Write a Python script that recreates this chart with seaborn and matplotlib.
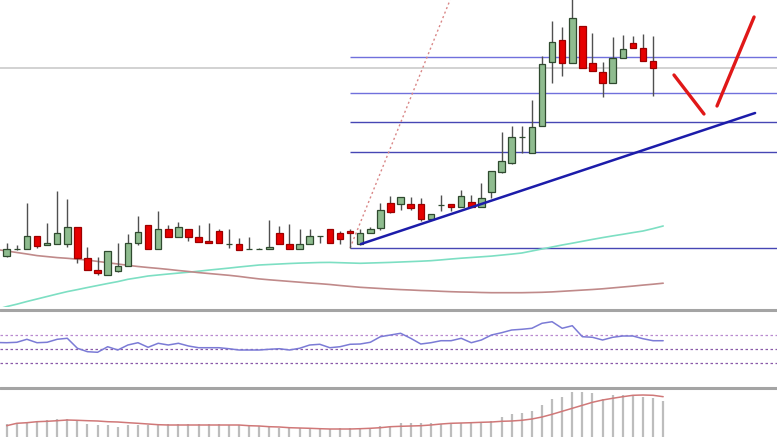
import numpy as np
import pandas as pd
import seaborn as sns
import matplotlib.pyplot as plt
from matplotlib.lines import Line2D

sns.set_style("white")

# candles (price units), one per bar
opens = [54, 61, 61, 74, 65, 66, 66, 83, 52, 40,
         35, 39, 44, 67, 85, 61, 81, 73, 81, 73,
         69, 79, 66, 66, 61, 61, 61, 77, 66, 61,
         66, 74, 81, 77, 79, 66, 77, 82, 107, 106,
         106, 106, 91, 105, 106, 103, 108, 103, 118, 138,
         147, 173, 157, 184, 248, 270, 247, 284, 247, 238,
         227, 252, 267, 262, 249]
highs = [67, 65, 107, 74, 87, 119, 111, 83, 63, 53,
         59, 67, 76, 94, 85, 99, 85, 88, 81, 85,
         87, 81, 81, 72, 73, 62, 90, 84, 86, 81,
         81, 74, 81, 79, 81, 81, 83, 107, 114, 113,
         113, 112, 96, 115, 106, 120, 115, 127, 139, 178,
         184, 184, 210, 254, 289, 283, 315, 284, 277, 248,
         273, 275, 274, 276, 274]
lows = [53, 60, 61, 62, 65, 66, 63, 47, 40, 35,
        35, 38, 44, 65, 61, 61, 73, 73, 69, 68,
        67, 67, 62, 60, 61, 61, 61, 66, 61, 61,
        66, 67, 67, 66, 62, 65, 77, 80, 97, 100,
        100, 89, 91, 99, 99, 103, 103, 103, 112, 137,
        146, 157, 157, 184, 227, 234, 247, 242, 239, 213,
        227, 252, 262, 249, 214]
closes = [61, 61, 74, 64, 67, 77, 83, 52, 40, 37,
          59, 44, 67, 78, 61, 81, 73, 83, 73, 68,
          67, 67, 66, 60, 61, 61, 63, 66, 61, 66,
          74, 74, 67, 71, 77, 77, 81, 100, 98, 113,
          102, 91, 96, 105, 103, 114, 103, 112, 139, 149,
          173, 173, 183, 246, 268, 247, 292, 242, 239, 227,
          252, 261, 262, 249, 242]

# moving averages, starting one bar before the first candle
ma_fast = [0.5, 3.4, 5.8, 8.5, 11, 13.5, 16, 18.4, 20.4, 22.5, 24.5, 26.5, 28.4,
           30.7, 32.3, 34, 35, 36, 36.9, 37.8, 38.8, 39.9, 40.9, 41.9, 43, 44, 45,
           45.5, 46, 46.5, 46.9, 47.2, 47.5, 47.6, 47.3, 47, 46.7, 47, 47.3, 47.6,
           48, 48.4, 48.8, 49.3, 50.1, 51, 51.8, 52.5, 53.2, 53.9, 54.9, 55.9, 57,
           59, 61, 63, 65, 66.8, 68.7, 70.6, 72.4, 74.1, 75.7, 77.4, 79, 81.4, 84]
ma_slow = [60.5, 59, 57.5, 56, 54.4, 53.4, 52.4, 51.7, 50.8, 49.9, 48.6, 47.3, 46,
           44.7, 43.5, 42.5, 41.6, 40.6, 39.5, 38.5, 37.4, 36.5, 35.6, 34.7, 33.6,
           32.3, 31.1, 30.2, 29.4, 28.6, 27.8, 27, 26.3, 25.5, 24.5, 23.6, 22.7,
           22.1, 21.5, 20.9, 20.4, 20, 19.5, 19.2, 18.7, 18.3, 18, 17.8, 17.5, 17.3,
           17.3, 17.3, 17.3, 17.5, 17.7, 18.1, 18.7, 19.3, 19.9, 20.5, 21.2, 22.1,
           23, 23.9, 24.9, 25.8, 26.8]

rsi = [59.1, 58.8, 59.4, 63.6, 58.8, 59.4, 63.6, 65.0, 51.0, 46.2, 45.4, 53.2, 48.6,
       55.6, 58.8, 52.4, 58.0, 55.6, 58.0, 54.2, 51.8, 51.8, 51.8, 50.4, 48.6, 48.6,
       48.6, 49.6, 50.4, 48.6, 51.0, 55.6, 56.6, 51.8, 53.2, 56.6, 57.0, 59.4, 67.2,
       69.6, 72.0, 65.0, 57.0, 58.8, 61.6, 61.6, 65.0, 58.8, 62.6, 69.6, 72.8, 76.6,
       77.6, 79.0, 86.0, 88.2, 79.0, 82.6, 67.2, 66.4, 62.6, 66.4, 68.2, 68.2, 64.4,
       61.6, 61.6]
rsi_levels = [70, 50, 30]

macd_hist = [21, 21.7, 23.3, 24.3, 25, 25.7, 25.7, 24.3, 21, 20,
             20, 18.3, 20, 20, 20, 21, 21, 21, 21, 21,
             21, 21, 20, 20, 20, 19, 18.3, 17.3, 16.7, 16.7,
             16, 16, 16, 16.7, 16.7, 17.3, 17.3, 19, 19, 21.7,
             22.3, 21.7, 21.7, 20.7, 22.3, 22.3, 22.3, 22.3, 24.3, 27.7,
             30.7, 31.7, 34.3, 40, 46, 48.3, 52.7, 52.7, 52.3, 45.7,
             50, 50, 49.3, 48.3, 46.7, 44.3]
macd_signal = [19.3, 21.7, 22.3, 23.3, 23.7, 24.3, 25, 24.7, 24.3, 24,
               23.3, 23, 22.3, 21.7, 21, 20.3, 20, 20, 20, 20,
               20, 20, 20, 20, 19.3, 19, 18.3, 18, 17.3, 17,
               16.7, 16.3, 16, 16, 16, 16.3, 16.7, 17.3, 18.3, 18.7,
               19, 19.3, 20, 21, 21.7, 22, 22.3, 22.7, 23, 23.7,
               24, 24.7, 26, 28, 30.7, 33.7, 36.7, 39.7, 42.7, 45,
               46.7, 48.3, 49.7, 50, 49.7, 48.3]

# drawn objects
fib_levels = [253, 217, 188, 158, 62]
fib_start = 34
last_price = 242
trend_x, trend_y = [35.08, 74.1], [66, 197]
fan_x, fan_y = [34.0, 43.9], [62, 310]
path1_x, path1_y = [66.07, 69.04], [235, 196]
path2_x, path2_y = [70.33, 74.0], [204, 293]

W, H = 777, 437
fig = plt.figure(figsize=(W / 100, H / 100), dpi=100)
fig.patch.set_facecolor("white")

def frac(top, bottom):
    return [0, (H - bottom) / H, 1, (bottom - top) / H]

ax = fig.add_axes(frac(0, 307))
ax_rsi = fig.add_axes(frac(311, 387), sharex=ax)
ax_macd = fig.add_axes(frac(389, 437), sharex=ax)
xlim = (-0.663, 76.27)

# main panel
x = np.arange(len(opens))
o, h, l, c = (np.array(v, dtype=float) for v in (opens, highs, lows, closes))
up = c >= o
ax.axhline(last_price, color="#cfcfcf", lw=1.3, zorder=0)
ax.hlines(fib_levels[:2], fib_start, xlim[1], color="#7070dc", lw=1, zorder=1)
ax.hlines(fib_levels[2:], fib_start, xlim[1], color="#4646b4", lw=1, zorder=1)
ma_x = np.arange(-1, len(ma_fast) - 1)
sns.lineplot(x=ma_x, y=ma_fast, ax=ax, color="#7ddfc3", lw=1.2, zorder=1)
sns.lineplot(x=ma_x, y=ma_slow, ax=ax, color="#c08a8a", lw=1.2, zorder=1)
ax.plot(fan_x, fan_y, color="#d98686", lw=1, ls=(0, (1.5, 2)), zorder=1)
ax.vlines(x, l, h, color="#505050", lw=1, zorder=2)
ax.bar(x[up], (c - o)[up], bottom=o[up], width=0.64, color="#8fbc8f",
       edgecolor="#2f4a2f", lw=0.9, zorder=3)
ax.bar(x[~up], (o - c)[~up], bottom=c[~up], width=0.64, color="#e60000",
       edgecolor="#9c0000", lw=0.9, zorder=3)
ax.plot(trend_x, trend_y, color="#1c1caa", lw=1.8, zorder=4)
ax.plot(path1_x, path1_y, color="#e01818", lw=2.4, solid_capstyle="round", zorder=4)
ax.plot(path2_x, path2_y, color="#e01818", lw=2.4, solid_capstyle="round", zorder=4)
ax.set_ylim(3, 310)

# rsi panel
rsi_x = np.arange(-1, len(rsi) - 1)
for lvl, col in zip(rsi_levels, ["#b98ad0", "#8a5aa8", "#8a5aa8"]):
    ax_rsi.axhline(lvl, color=col, lw=0.9, ls=(0, (2, 2)))
sns.lineplot(x=rsi_x, y=rsi, ax=ax_rsi, color="#7b7bd6", lw=1.1)
ax_rsi.set_ylim(-3.2, 103.2)

# macd panel
mx = np.arange(len(macd_hist))
ax_macd.vlines(mx, 0, macd_hist, color="#bdbdbd", lw=1.6)
sns.lineplot(x=mx, y=macd_signal, ax=ax_macd, color="#d07878", lw=1.1)
ax_macd.set_ylim(8, 56)

for a in (ax, ax_rsi, ax_macd):
    a.set_xlim(*xlim)
    a.set_axis_off()
    if a.get_legend():
        a.get_legend().remove()

for ypix in (309.5, 388):
    fig.add_artist(Line2D([0, 1], [(H - ypix) / H] * 2, transform=fig.transFigure,
                          color="#a4a4a4", lw=2.2))

fig.savefig("out.png", dpi=100)
